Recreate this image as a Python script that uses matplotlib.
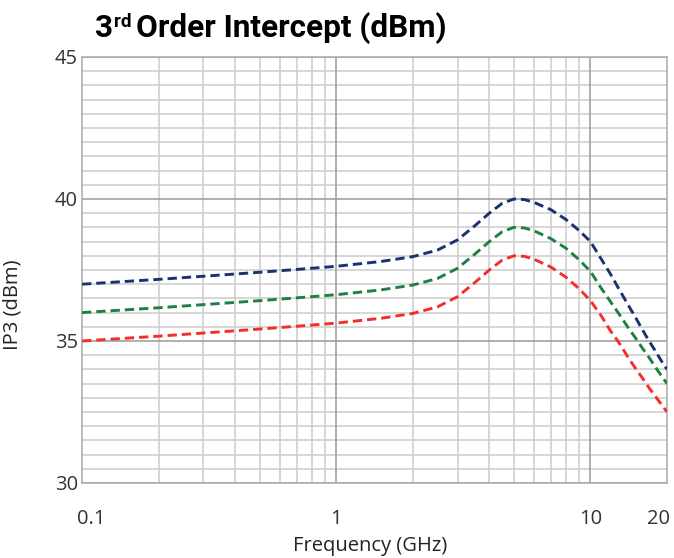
import matplotlib
matplotlib.use("Agg")
import matplotlib.pyplot as plt
from matplotlib.ticker import FixedLocator, NullFormatter
from matplotlib.transforms import offset_copy

# ---- data ----
freq_ghz = [0.1, 0.2, 0.3, 0.5, 0.7, 1, 1.5, 2, 2.5, 3, 3.5, 4, 4.5, 5, 5.5, 6,
            7, 8, 9, 10, 11, 12, 13, 14, 15, 16, 17, 18, 19, 20]
ip3_blue = [37.0, 37.17, 37.28, 37.42, 37.52, 37.63, 37.80, 37.97, 38.2, 38.56,
            39.05, 39.5, 39.85, 40.0, 39.98, 39.88, 39.62, 39.28, 38.9, 38.5,
            37.9, 37.35, 36.8, 36.3, 35.85, 35.4, 35.0, 34.65, 34.3, 34.0]
ip3_green = [36.0, 36.17, 36.28, 36.42, 36.52, 36.63, 36.80, 36.97, 37.2, 37.56,
             38.05, 38.5, 38.85, 39.0, 38.98, 38.88, 38.6, 38.27, 37.87, 37.45,
             36.87, 36.38, 35.93, 35.5, 35.12, 34.75, 34.42, 34.08, 33.78, 33.5]
ip3_red = [35.0, 35.17, 35.28, 35.42, 35.52, 35.63, 35.80, 35.97, 36.2, 36.56,
           37.05, 37.5, 37.85, 38.0, 37.98, 37.88, 37.6, 37.25, 36.85, 36.42,
           35.9, 35.35, 34.92, 34.45, 34.05, 33.7, 33.35, 33.05, 32.77, 32.5]

x_ticks = [0.1, 1, 10, 20]
x_tick_labels = ["0.1", "1", "10", "20"]
y_ticks = [30, 35, 40, 45]

fig = plt.figure(figsize=(6.74, 5.58), dpi=100)
ax = fig.add_axes([82/674, 1-483/558, (667-82)/674, (483-57)/558])

dash = (0, (3.2, 1.7))
ax.plot(freq_ghz, ip3_blue, color="#1b326e", lw=2.1, linestyle=dash, zorder=3)
ax.plot(freq_ghz, ip3_green, color="#1f8046", lw=2.1, linestyle=dash, zorder=3)
ax.plot(freq_ghz, ip3_red, color="#f52d2d", lw=2.1, linestyle=dash, zorder=3)

ax.set_xscale("log")
ax.set_xlim(0.1, 20)
ax.set_ylim(30, 45)

# grid
minor_x = [m * d for d in (0.1, 1, 10) for m in range(2, 10) if m * d < 20]
for xv in minor_x:
    ax.axvline(xv, color="#cccccc", lw=1.1, zorder=1)
for xv in (1, 10):
    ax.axvline(xv, color="#9a9a9a", lw=1.1, zorder=1.5)
for i in range(31):
    yv = 30 + 0.5 * i
    major = (i % 10 == 0)
    ax.axhline(yv, color="#9a9a9a" if major else "#cccccc", lw=1.1,
               zorder=1.5 if major else 1)

ax.xaxis.set_major_locator(FixedLocator(x_ticks))
ax.set_xticklabels(x_tick_labels)
ax.xaxis.set_minor_locator(FixedLocator([]))
ax.xaxis.set_minor_formatter(NullFormatter())
ax.set_yticks(y_ticks)
ax.tick_params(axis="both", length=0, labelsize=14.5, colors="#333333")
ax.tick_params(axis="x", pad=19)
ax.tick_params(axis="y", pad=3)
for lab in ax.get_xticklabels() + ax.get_yticklabels():
    lab.set_fontfamily("Open Sans")
# keep the end x labels inside the plot width, like the reference
xl = ax.get_xticklabels()
xl[0].set_transform(offset_copy(xl[0].get_transform(), fig=fig, x=9, y=0, units="dots"))
xl[-1].set_transform(offset_copy(xl[-1].get_transform(), fig=fig, x=-8, y=0, units="dots"))
for s in ax.spines.values():
    s.set_color("#aaaaaa")
    s.set_linewidth(1.1)

fig.text(370/674, 1-546/558, "Frequency (GHz)", ha="center", va="center",
         fontsize=14.5, color="#222222", family="Open Sans")
fig.text(13/674, 1-305/558, "IP3 (dBm)", ha="center", va="center",
         rotation=90, fontsize=14.5, color="#222222", family="Open Sans")

# title with superscript
title_kw = dict(fontweight="bold", color="black", family="Roboto")
r = fig.canvas.get_renderer()
ybase = 1 - 37/558
target_w = 447 - 95


def draw_title(fs):
    t1 = fig.text(95/674, ybase, "3", fontsize=fs, va="baseline", **title_kw)
    bb = t1.get_window_extent(r)
    t2 = fig.text((bb.x1 + 1)/674, ybase + 0.45*fs/558, "rd", fontsize=fs*0.6,
                  va="baseline", **title_kw)
    bb2 = t2.get_window_extent(r)
    t3 = fig.text((bb2.x1 + 4)/674, ybase, "Order Intercept (dBm)", fontsize=fs,
                  va="baseline", **title_kw)
    bb3 = t3.get_window_extent(r)
    return [t1, t2, t3], bb3.x1 - bb.x0


fs = 21
texts, w = draw_title(fs)
for t in texts:
    t.remove()
fs = fs * target_w / w
draw_title(fs)

fig.savefig("out.png", dpi=100)
